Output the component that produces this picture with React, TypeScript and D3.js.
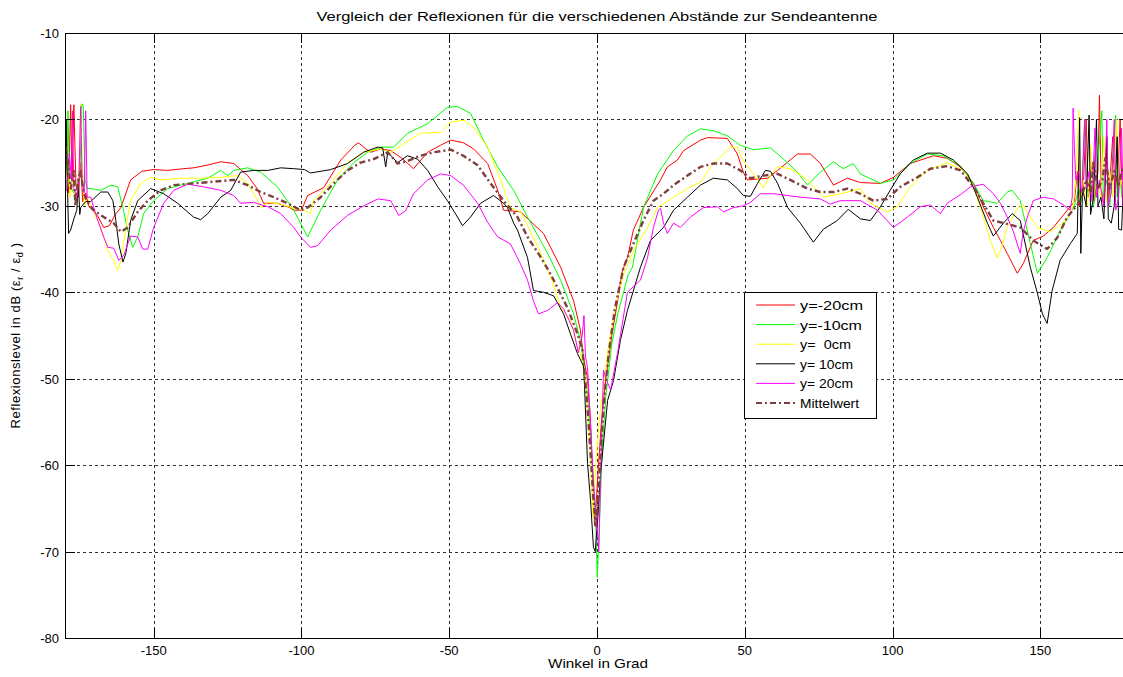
import React from "react";
import * as d3 from "d3";

type Pt = [number, number];

// Winkel (Grad) / Reflexionslevel (dB)
const yMinus20: Pt[] = [
  [-180, -17.8], [-179.4, -25], [-178.8, -28.5], [-178.1, -18.3], [-177.6, -27], [-177.0, -18.3], [-176.3, -27.5], [-175.5, -29], [-174.7, -25], [-174, -29.5], [-173, -28.5], [-172, -30], [-171.3, -30.3],
  [-168.9, -31.2], [-166.9, -32.5], [-165, -32.3], [-163, -31], [-161.1, -30.2], [-157.8, -27], [-154, -26], [-150, -25.8], [-145.3, -25.9], [-140, -25.7], [-136.5, -25.6], [-132, -25.3], [-127.3, -24.9], [-122.9, -25.1], [-118.2, -26.5], [-115, -28], [-112.8, -29.7], [-108.1, -29.7], [-104, -30.2], [-102.6, -30.5], [-100, -30.5], [-97.9, -28.8], [-92.5, -27.9], [-86.7, -24.7], [-82, -23], [-80.7, -22.7], [-78.3, -23.4], [-76.6, -23.8], [-73.2, -23.4], [-69.8, -23.6], [-66, -24.5], [-62.1, -25.7], [-57.3, -23.8], [-53, -23], [-49.5, -22.4], [-45.2, -22.7], [-41.8, -23.4], [-37, -25.1], [-33.6, -28.2], [-31.6, -30.5], [-25.9, -30.7], [-18.1, -33.2], [-12.3, -37.1], [-7.9, -41], [-5.6, -44.4], [-4.6, -47.5], [-3.2, -50], [-2.2, -55], [-1.4, -62], [-0.8, -67], [-0.2, -64], [0.5, -60], [1.5, -55], [3, -50], [5, -45], [6.5, -42], [8.6, -37.5], [10.3, -36], [12.3, -32.8], [15.7, -30.2], [21.5, -27], [23.8, -25.5], [27.2, -24.7], [29.3, -23.6], [35, -22.4], [37.4, -22.1], [44.1, -22.2], [47.5, -24], [49.5, -26.1], [50.9, -27], [57.7, -26.8], [61.1, -25.9], [67.8, -24], [72.2, -24], [75.6, -25.1], [80, -27.6], [84.7, -26.8], [89.1, -27.3], [95.9, -27.4], [100.3, -26.7], [106, -25.1], [113.8, -24.2], [118.5, -24.5], [123, -25.5], [127.4, -27.4], [130.7, -30.1], [134.1, -32.5], [136.5, -34], [138.8, -35.5], [142.2, -37.8], [144.2, -36.7], [147.6, -34], [151, -33.5], [154.4, -32.5], [160.1, -30.1],
  [161.5, -29.5], [162.5, -26], [163.2, -30], [164.5, -28], [165.5, -20], [166.2, -29], [167.5, -25], [168.3, -29.5], [169.5, -26], [170, -17.2], [170.6, -28], [171.5, -30], [172.5, -24], [173.2, -29], [174.5, -22], [175.2, -28.5], [176.3, -26], [177, -20], [177.7, -29], [178.5, -27], [179.3, -21], [180, -27],
];

const yMinus10: Pt[] = [
  [-180, -18.5], [-179.5, -28], [-179, -19], [-178.5, -27], [-177.8, -28], [-177, -28.5], [-176, -28], [-175, -27], [-174.3, -18.2], [-173.8, -18.5], [-173.2, -27], [-172.5, -28], [-171.3, -28],
  [-167.9, -28.2], [-164.5, -27.6], [-162.2, -27.8], [-160.4, -30.2], [-158.8, -32.8], [-157.1, -34.8], [-155.4, -33.6], [-153.4, -30.9], [-150, -29.4], [-145.3, -28], [-138.4, -27.4], [-131.7, -26.8], [-127.3, -25.9], [-124.9, -26.5], [-122.9, -25.9], [-118.2, -25.6], [-113.8, -26.1], [-108.1, -27.8], [-102.6, -30.5], [-97.9, -33.6], [-93.5, -30.5], [-87.8, -27], [-82.3, -25], [-77.6, -23.8], [-73.2, -23.2], [-68.8, -23.2], [-64.1, -21.6], [-57.3, -20.5], [-50.6, -18.6], [-47.2, -18.5], [-42.8, -19.3], [-38.4, -22.4], [-33.6, -25.5], [-28.2, -28.2], [-23.5, -31.3], [-16.7, -35.5], [-12.3, -38.6], [-7.9, -42.5], [-5.6, -45.6], [-4.6, -47.9], [-3.2, -52], [-2, -58], [-1, -63], [-0.3, -68], [0.1, -73], [0.8, -67], [1.8, -58], [3, -52], [5, -46], [7, -42.5], [9, -40], [10.5, -38], [12, -37.1], [15.7, -30.2], [20.5, -26.3], [25.9, -23.6], [30.6, -21.9], [35, -21.1], [39.4, -21.3], [44.1, -21.9], [48.5, -23], [52.9, -23.5], [58.7, -23.3], [63.1, -24.6], [67.8, -26.1], [71.2, -27.6], [75.6, -26.1], [80, -24.9], [83.3, -25.7], [86.7, -25.1], [89.1, -26.3], [95.9, -27.4], [100.3, -27], [106, -25.1], [111.8, -24], [117.2, -24.2], [123, -25.4], [127.4, -27.4], [130.7, -29.4], [135.4, -29.7], [138.8, -28.4], [140.5, -28.2], [143.2, -29.4], [145.6, -32.9], [149, -37.8], [152.3, -36], [156.7, -32.9], [160.1, -30.9],
  [161.5, -30], [163, -28], [164, -29.5], [165, -20], [165.7, -29], [166.8, -26], [168, -30], [169, -27], [170.8, -19], [171.3, -29], [172.5, -27], [173.5, -30], [174.5, -25], [175.5, -19.5], [176, -29], [177, -27], [178, -30], [179, -21], [180, -28],
];

const y0: Pt[] = [
  [-180, -24], [-179.5, -27], [-179, -25], [-178.3, -29], [-177.5, -27], [-176.5, -29.5], [-175.5, -28], [-174.7, -18.2], [-174.2, -25], [-173.5, -30], [-172.5, -29], [-171.3, -30],
  [-167.9, -32.5], [-165.5, -35.2], [-163.5, -36.3], [-162.2, -37.5], [-161.1, -36.3], [-159.4, -32.5], [-157.8, -29.4], [-154.4, -27.4], [-151, -26.7], [-147.6, -27], [-140.8, -26.8], [-134.1, -26.8], [-127.3, -26.7], [-121.6, -26.5], [-118.2, -27.4], [-114.8, -29.4], [-113.8, -30.2], [-111.4, -29.6], [-107, -29.8], [-102.6, -30.3], [-99, -30.5], [-97, -30.9], [-95.9, -29.4], [-90.1, -27.4], [-84.4, -25], [-79, -23.8], [-73.2, -23.4], [-69.8, -23.8], [-65.4, -22.8], [-59.7, -21.6], [-52.9, -21.5], [-49.5, -20.3], [-45.2, -20.1], [-41.8, -20.9], [-37, -23.2], [-32.6, -27], [-29.3, -30.2], [-25.9, -30.7], [-24.9, -31.3], [-20.1, -34.7], [-15.7, -38.2], [-12.3, -41.7], [-9, -43.2], [-7.3, -45.6], [-5.6, -47.1], [-4, -50], [-3, -55], [-2, -60], [-1.5, -66], [-0.8, -62], [0, -58], [1, -54], [2.5, -50], [4, -46], [6, -42], [9, -37.9], [12.3, -35.2], [17.1, -32.5], [20.5, -30.2], [25.9, -29], [31.6, -27.8], [35, -27.3], [38.4, -25.5], [42.8, -24], [45.2, -23.2], [47.5, -23.2], [49.5, -24.8], [52.9, -26.3], [56.3, -27.9], [58.7, -26.5], [61.1, -25.5], [65.4, -25.7], [71.2, -27], [76.6, -29], [82.3, -28.6], [89.1, -28], [92.5, -29.7], [98.2, -30.7], [101.6, -30.1], [106, -27.8], [111.8, -25.9], [118.5, -25], [124, -25.9], [127.4, -27.8], [130.7, -31.3], [133.1, -34], [135.4, -36], [136.5, -35.2], [138.8, -32.5], [142.2, -30.3], [144.2, -29.9], [146.6, -31.3], [149, -32.5], [153.4, -33], [159.1, -31.6], [161.1, -30],
  [162, -27], [163, -19], [163.6, -29], [164.5, -27], [166, -30], [167, -23], [168, -29], [169, -27], [170.5, -29], [171.5, -22], [172.3, -29.5], [173.5, -26], [174.5, -29], [175.8, -20], [176.5, -28], [177.5, -27], [178.5, -30], [179.3, -24], [180, -28],
];

const y10: Pt[] = [
  [-180, -33], [-179.6, -20], [-179.2, -27], [-178.8, -33.2], [-178.1, -32.8], [-177, -31.5], [-176, -30.5], [-175.5, -27], [-175, -31], [-174.7, -30.2], [-173, -29.5], [-171.3, -29.5],
  [-167.9, -28.4], [-165.5, -28.4], [-163.8, -29.4], [-162.8, -31.7], [-161.8, -34.4], [-160.4, -36.5], [-159.4, -35.5], [-157.8, -31.7], [-155.4, -29.4], [-151, -28], [-146.6, -28.6], [-141.9, -29.7], [-136.5, -31.3], [-134.1, -31.6], [-131.7, -30.9], [-127.3, -29], [-123.9, -28.2], [-120.6, -26.1], [-116.2, -25.9], [-111.4, -25.9], [-107, -25.6], [-102.6, -25.7], [-99, -25.8], [-96.9, -26.2], [-90.1, -25.8], [-84.4, -25.1], [-79, -23.8], [-74.2, -23.2], [-72.5, -23.3], [-71.5, -25.5], [-70.8, -23.8], [-67.5, -25], [-64.1, -24.2], [-60.7, -24.6], [-57.3, -25.9], [-53.9, -27.8], [-50.6, -29.4], [-47.2, -31.3], [-45.5, -32.3], [-42.8, -31.3], [-39.4, -29.7], [-35, -28.8], [-31.6, -29.7], [-30.3, -30.2], [-28.2, -32], [-26.9, -32.8], [-23.5, -36], [-21.5, -39.8], [-18.1, -40], [-14.7, -40.4], [-11.3, -42.5], [-9, -44.8], [-6.6, -47.1], [-4.6, -48.5], [-4.3, -50.2], [-3.2, -59.8], [-2.2, -64], [-1.2, -69.5], [-0.6, -70], [0.3, -66], [1.2, -61], [3.6, -52.5], [5.6, -50.2], [7.9, -45.6], [10.3, -42.1], [14.7, -37.1], [18.1, -34], [22.5, -32.5], [25.9, -30.5], [30.6, -29], [35, -27.6], [39.4, -26.8], [44.1, -27], [47.5, -28], [49.5, -28.8], [51.9, -28.9], [54.3, -27.4], [57, -25.9], [58.7, -26], [61.1, -27.4], [64.5, -30.2], [68.8, -32], [73.2, -34.2], [76.6, -32.7], [81.3, -31.7], [85, -30.4], [89.1, -31.5], [92.5, -31.7], [95.9, -30.1], [99.2, -28.2], [102.6, -26.3], [107, -24.7], [111.8, -23.9], [116.2, -23.9], [120.6, -24.7], [125.4, -26.3], [128.7, -29], [132.1, -32], [134.1, -33.5], [137.5, -32], [140.5, -30.9], [143.2, -31.7], [146.6, -37.1], [149, -40.1], [150.7, -42.5], [152.3, -43.6], [154, -39.8], [156.7, -36.3], [160.1, -34.4], [162.5, -33.2],
  [163.3, -19.8], [163.7, -35.5], [164.3, -28], [165.5, -30], [166.5, -19.5], [167, -31], [168, -29], [169, -20], [169.5, -30], [170.5, -29], [171.5, -31.5], [172.5, -22], [173, -31.5], [174, -32], [175, -30], [176, -22], [176.5, -32.7], [177.5, -32.8], [178.5, -24], [179.2, -32.8], [180, -31],
];

const y20: Pt[] = [
  [-180, -28.5], [-179.3, -28], [-178.5, -24], [-177.8, -27], [-177.5, -19], [-177, -28], [-176, -29], [-175.3, -27], [-174.7, -18.5], [-174.2, -27], [-173.5, -28.5], [-173, -19], [-172.5, -29], [-171.3, -29],
  [-168.9, -31.7], [-166.9, -33.6], [-165.5, -34.8], [-163.5, -34.9], [-161.8, -36.3], [-160.1, -35.7], [-157.8, -33.5], [-155.4, -33.6], [-153.7, -35], [-152, -35], [-150, -32.5], [-146.6, -29.7], [-143.2, -28.2], [-138.4, -27.5], [-133.1, -27.8], [-127.3, -28.2], [-122.9, -28.8], [-120.6, -29.7], [-116.2, -29.6], [-111.4, -30.1], [-107, -30.9], [-102.6, -32.5], [-100.3, -33.6], [-96.9, -34.8], [-94.5, -34.6], [-90.1, -32.8], [-84.4, -31.1], [-80, -30.2], [-74.2, -29.2], [-69.8, -29.4], [-67.1, -31.1], [-64.8, -30.6], [-62.1, -28.6], [-57.3, -27], [-52.9, -26.3], [-49.5, -26.5], [-45.2, -27.6], [-40.4, -29.7], [-37, -31.9], [-33.6, -33.6], [-29.3, -34.4], [-25.9, -36.7], [-23.5, -38.6], [-21.5, -41], [-19.8, -42.5], [-16.7, -42.1], [-13.4, -41.2], [-11.3, -41.9], [-7.9, -44.4], [-6.3, -47], [-5, -45], [-4.4, -42.7], [-3.9, -47.5], [-3.2, -48.7], [-2.2, -55], [-1.2, -62], [0, -67], [0.6, -70], [1.3, -60], [2.2, -49], [3, -50], [4.6, -51.3], [6.9, -47.1], [10.3, -40], [14.7, -38.6], [17.1, -36], [19.1, -32.5], [20.8, -30.5], [21.5, -30.3], [22.5, -32], [23.8, -33.2], [25.9, -32], [28.2, -32.5], [31.6, -31.3], [36, -30.2], [40.8, -30.1], [42.8, -30.7], [46.2, -30.2], [49.5, -30], [51.9, -29.6], [55.3, -28.6], [59.8, -28.6], [68.8, -29], [75.6, -29.2], [78.9, -29.8], [82.3, -29.4], [89.1, -29.4], [94.9, -30.5], [100.3, -32.5], [105, -31.3], [109.4, -30.1], [112.8, -29.9], [116.2, -30.9], [118.5, -29.7], [123, -28.7], [126.4, -27.8], [130.7, -27.5], [134.1, -28.6], [136.5, -29.7], [138.8, -31.3], [140.8, -32.9], [143.2, -35.5], [144.2, -33], [145.6, -31.3], [147.6, -29.4], [151, -29], [154.4, -29.2], [157.8, -29.9], [160.1, -30.5],
  [160.8, -29], [161.1, -18.7], [161.5, -23], [162, -27], [163, -26], [164, -28.5], [165, -20], [165.5, -28], [166.5, -26], [167.5, -29.5], [168.5, -21], [169, -29], [170, -27], [171.5, -30], [172.5, -20], [173, -30], [174, -28.5], [175, -20], [175.5, -30.5], [176.5, -29], [177.5, -21], [178, -30], [179, -28], [180, -26],
];

const mittelwert: Pt[] = [
  [-180, -23], [-179, -25], [-178, -28], [-177, -26], [-176.5, -30], [-175.5, -27], [-174.7, -26], [-173.7, -28.5], [-172.5, -29.5], [-170.3, -30.5],
  [-166.9, -31.3], [-163.5, -32], [-161.1, -33], [-158.8, -32.5], [-155.4, -30.7], [-152, -29.4], [-147.6, -28.2], [-143.2, -27.6], [-136.5, -27.4], [-129.7, -27.2], [-122.9, -27], [-118.2, -27.6], [-113.8, -28.4], [-109.4, -29], [-104.7, -29.7], [-100.3, -30.5], [-97.9, -30.2], [-93.5, -29], [-89.1, -27.4], [-84.4, -25.9], [-80, -25], [-75.6, -24.6], [-70.8, -23.8], [-67.5, -25.1], [-64.1, -24.8], [-59.7, -24.2], [-55.3, -23.8], [-49.5, -23.5], [-45.2, -24.2], [-40.4, -25.3], [-36, -27.4], [-31.6, -29.4], [-26.9, -31.3], [-23.5, -33.6], [-19.1, -35.9], [-15.7, -37.9], [-12.3, -40.2], [-10, -41.8], [-6.6, -44.8], [-4.9, -46.7], [-3.5, -52], [-2.3, -58], [-1.2, -64], [-0.4, -67], [0.4, -64], [1.3, -58], [2.5, -52], [4, -47], [6, -42], [9, -37.1], [12.3, -34.4], [15.7, -31.7], [19.1, -29.4], [22.5, -28.6], [25.9, -27.6], [30.6, -26.5], [35, -25.5], [39.4, -25.1], [44.1, -25.1], [48.5, -25.9], [51.9, -26.8], [56.3, -26.5], [61.1, -26.3], [65.4, -27], [71.2, -28], [75.6, -28.4], [80, -28.4], [84.7, -28], [89.1, -28.6], [93.5, -29.4], [98.2, -29.2], [102.6, -27.8], [108.4, -26.7], [112.8, -25.7], [118.5, -25.4], [123, -25.9], [127.4, -27.8], [130.7, -29.7], [134.1, -31.7], [138.8, -32.1], [143.2, -32.5], [147.6, -34], [152.3, -35], [155.7, -33.7], [159.1, -31.3], [162.5, -29.9],
  [164, -29], [165.5, -27], [167, -28.5], [168, -25], [169.5, -28], [171, -27], [172, -24.5], [173.5, -28], [175, -26], [176.5, -27.5], [178, -25.5], [180, -27],
];

const seriesNames = ["y=-20cm", "y=-10cm", "y=  0cm", "y= 10cm", "y= 20cm", "Mittelwert"];
const seriesData = [yMinus20, yMinus10, y0, y10, y20, mittelwert];
const seriesColors = ["#ff0000", "#00ff00", "#ffff00", "#000000", "#ff00ff", "#7f3f3f"];

const xTicks = [-150, -100, -50, 0, 50, 100, 150];
const yTicks = [-80, -70, -60, -50, -40, -30, -20, -10];

// rendered widths of the legend entries
const legendTextWidths = [63, 62, 51, 53, 53, 59];

const W = 1123;
const H = 677;
const left = 65;
const right = 1129;
const top = 33;
const bottom = 638;
const FONT = "'Liberation Sans', Arial, Helvetica, sans-serif";

export default function App() {
  const x = d3.scaleLinear().domain([-180, 180]).range([left, right]);
  const y = d3.scaleLinear().domain([-80, -10]).range([bottom, top]);
  const line = d3
    .line<Pt>()
    .x((d) => x(d[0]))
    .y((d) => y(d[1]));

  const tickLen = 10;
  const legX = 744;
  const legY = 292;
  const legW = 132;
  const legH = 126;
  const rowH = 19.6;

  return (
    <svg
      width={W}
      height={H}
      style={{ position: "absolute", left: 0, top: 0, background: "#fff" }}
      fontFamily={FONT}
    >
      <rect x={0} y={0} width={W} height={H} fill="#fff" />
      <defs>
        <clipPath id="plotClip">
          <rect x={left} y={top} width={right - left} height={bottom - top} />
        </clipPath>
      </defs>

      {/* grid */}
      <g stroke="#333" strokeWidth={1} strokeDasharray="3,3" shapeRendering="crispEdges">
        {xTicks.map((t) => (
          <line key={"gx" + t} x1={Math.round(x(t)) + 0.5} x2={Math.round(x(t)) + 0.5} y1={top} y2={bottom} />
        ))}
        {yTicks.slice(1, -1).map((t) => (
          <line key={"gy" + t} x1={left} x2={right} y1={Math.round(y(t)) + 0.5} y2={Math.round(y(t)) + 0.5} />
        ))}
      </g>

      {/* data */}
      <g clipPath="url(#plotClip)" fill="none">
        {seriesData.map((d, i) => (
          <path
            key={seriesNames[i]}
            d={line(d) || ""}
            stroke={seriesColors[i]}
            strokeWidth={i === 5 ? 2.4 : 1}
            strokeDasharray={i === 5 ? "6,3,2,3" : undefined}
            strokeLinejoin="round"
          />
        ))}
      </g>

      {/* axes box and ticks */}
      <g stroke="#000" strokeWidth={1} shapeRendering="crispEdges" fill="none">
        <line x1={left + 0.5} x2={left + 0.5} y1={top} y2={bottom} />
        <line x1={left} x2={right} y1={top + 0.5} y2={top + 0.5} />
        <line x1={left} x2={right} y1={bottom + 0.5} y2={bottom + 0.5} />
        <line x1={right + 0.5} x2={right + 0.5} y1={top} y2={bottom} />
        {xTicks.map((t) => (
          <g key={"tx" + t}>
            <line x1={Math.round(x(t)) + 0.5} x2={Math.round(x(t)) + 0.5} y1={bottom} y2={bottom - tickLen} />
            <line x1={Math.round(x(t)) + 0.5} x2={Math.round(x(t)) + 0.5} y1={top} y2={top + tickLen} />
          </g>
        ))}
        {yTicks.map((t) => (
          <g key={"ty" + t}>
            <line x1={left} x2={left + tickLen} y1={Math.round(y(t)) + 0.5} y2={Math.round(y(t)) + 0.5} />
            <line x1={right} x2={right - tickLen} y1={Math.round(y(t)) + 0.5} y2={Math.round(y(t)) + 0.5} />
          </g>
        ))}
      </g>

      {/* tick labels */}
      <g fontSize={13} fill="#000">
        {xTicks.map((t) => (
          <text key={"lx" + t} x={x(t)} y={bottom + 17} textAnchor="middle">
            {t}
          </text>
        ))}
        {yTicks.map((t) => (
          <text key={"ly" + t} x={left - 6} y={y(t) + 5} textAnchor="end">
            {t}
          </text>
        ))}
      </g>

      {/* title and axis labels */}
      <text
        x={(left + right) / 2}
        y={21}
        fontSize={13}
        textAnchor="middle"
        fill="#000"
        textLength={561}
        lengthAdjust="spacingAndGlyphs"
      >
        Vergleich der Reflexionen für die verschiedenen Abstände zur Sendeantenne
      </text>
      <text
        x={(left + right) / 2 + 1}
        y={668}
        fontSize={13}
        textAnchor="middle"
        fill="#000"
        textLength={100}
        lengthAdjust="spacingAndGlyphs"
      >
        Winkel in Grad
      </text>
      <text
        transform={`translate(20, ${(top + bottom) / 2}) rotate(-90)`}
        fontSize={13}
        textAnchor="middle"
        fill="#000"
        letterSpacing={0.6}
      >
        Reflexionslevel in dB (ε
        <tspan fontSize={9} dy={3}>r</tspan>
        <tspan dy={-3}> / ε</tspan>
        <tspan fontSize={9} dy={3}>d</tspan>
        <tspan dy={-3}> )</tspan>
      </text>

      {/* legend */}
      <g>
        <rect x={legX + 0.5} y={legY + 0.5} width={legW} height={legH} fill="#fff" stroke="#000" shapeRendering="crispEdges" />
        {seriesNames.map((name, i) => {
          const cy = legY + 13 + i * rowH;
          return (
            <g key={"leg" + name}>
              <line
                x1={legX + 12}
                x2={legX + 51}
                y1={cy}
                y2={cy}
                stroke={seriesColors[i]}
                strokeWidth={i === 5 ? 2 : 1}
                strokeDasharray={i === 5 ? "6,3,2,3" : undefined}
              />
              <text
                x={legX + 56}
                y={cy + 5}
                fontSize={13}
                fill="#000"
                style={{ whiteSpace: "pre" }}
                textLength={legendTextWidths[i]}
                lengthAdjust="spacingAndGlyphs"
              >
                {name}
              </text>
            </g>
          );
        })}
      </g>
    </svg>
  );
}
